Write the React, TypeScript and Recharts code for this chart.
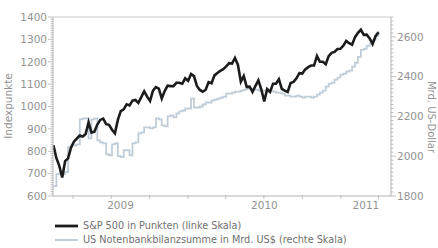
import { LineChart, Line, XAxis, YAxis, ReferenceLine } from "recharts";

const weeks = [
  "2009-02-13", "2009-02-20", "2009-02-27", "2009-03-06", "2009-03-13", "2009-03-20", "2009-03-27",
  "2009-04-03", "2009-04-10", "2009-04-17", "2009-04-24", "2009-05-01", "2009-05-08", "2009-05-15",
  "2009-05-22", "2009-05-29", "2009-06-05", "2009-06-12", "2009-06-19", "2009-06-26", "2009-07-03",
  "2009-07-10", "2009-07-17", "2009-07-24", "2009-07-31", "2009-08-07", "2009-08-14", "2009-08-21",
  "2009-08-28", "2009-09-04", "2009-09-11", "2009-09-18", "2009-09-25", "2009-10-02", "2009-10-09",
  "2009-10-16", "2009-10-23", "2009-10-30", "2009-11-06", "2009-11-13", "2009-11-20", "2009-11-27",
  "2009-12-04", "2009-12-11", "2009-12-18", "2009-12-25",
  "2010-01-01", "2010-01-08", "2010-01-15", "2010-01-22", "2010-01-29", "2010-02-05", "2010-02-12",
  "2010-02-19", "2010-02-26", "2010-03-05", "2010-03-12", "2010-03-19", "2010-03-26", "2010-04-02",
  "2010-04-09", "2010-04-16", "2010-04-23", "2010-04-30", "2010-05-07", "2010-05-14", "2010-05-21",
  "2010-05-28", "2010-06-04", "2010-06-11", "2010-06-18", "2010-06-25", "2010-07-02", "2010-07-09",
  "2010-07-16", "2010-07-23", "2010-07-30", "2010-08-06", "2010-08-13", "2010-08-20", "2010-08-27",
  "2010-09-03", "2010-09-10", "2010-09-17", "2010-09-24", "2010-10-01", "2010-10-08", "2010-10-15",
  "2010-10-22", "2010-10-29", "2010-11-05", "2010-11-12", "2010-11-19", "2010-11-26", "2010-12-03",
  "2010-12-10", "2010-12-17", "2010-12-24", "2010-12-31",
  "2011-01-07", "2011-01-14", "2011-01-21", "2011-01-28", "2011-02-04", "2011-02-11", "2011-02-18",
  "2011-02-25", "2011-03-04", "2011-03-11", "2011-03-18", "2011-03-25", "2011-04-01",
];

// S&P 500, points (left scale)
const spClose = [
  827, 770, 735, 683, 756, 768, 816, 843, 857, 870, 866, 877, 929, 883, 887, 919, 940, 946, 921, 918,
  896, 880, 940, 979, 987, 1010, 1005, 1026, 1029, 1016, 1042, 1068, 1044, 1025, 1071, 1087, 1080, 1036,
  1069, 1093, 1091, 1091, 1106, 1106, 1102, 1126,
  1115, 1145, 1136, 1092, 1074, 1066, 1075, 1109, 1104, 1139, 1150, 1159, 1167, 1179, 1194, 1192, 1217,
  1187, 1111, 1136, 1088, 1089, 1065, 1092, 1117, 1076, 1023, 1078, 1065, 1102, 1102, 1122, 1079, 1071,
  1065, 1105, 1110, 1126, 1149, 1147, 1166, 1176, 1183, 1183, 1226, 1200, 1200, 1189, 1225, 1240, 1244,
  1257, 1258,
  1272, 1293, 1283, 1276, 1310, 1329, 1343, 1320, 1321, 1304, 1279, 1314, 1332,
];

// Fed balance sheet, bn US$ (right scale)
const fedTotal = [
  1850, 1910, 1915, 1910, 1920, 2045, 2055, 2055, 2060, 2185, 2190, 2190, 2090, 2185, 2190, 2080, 2070,
  2065, 2010, 2005, 2060, 2065, 2000, 1995, 2030, 2030, 2005, 2065, 2070, 2115, 2120, 2145, 2145, 2140,
  2145, 2190, 2185, 2155, 2150, 2200, 2205, 2195, 2215, 2225, 2230, 2240,
  2240, 2290, 2245, 2245, 2250, 2260, 2270, 2270, 2280, 2285, 2290, 2295, 2300, 2315, 2315, 2320, 2325,
  2325, 2330, 2335, 2340, 2340, 2335, 2335, 2330, 2330, 2330, 2325, 2330, 2325, 2320, 2320, 2315, 2305,
  2305, 2300, 2300, 2305, 2300, 2295, 2300, 2300, 2295, 2300, 2310, 2320, 2330, 2350, 2365, 2370, 2385,
  2395, 2410,
  2415, 2425, 2430, 2450, 2470, 2500, 2535, 2540, 2555, 2565, 2585, 2605, 2630,
];

const xStart = "2009-02-12";
const xEnd = "2011-05-01";
const quarterTicks = [
  "2009-04-01", "2009-07-01", "2009-10-01", "2010-01-01", "2010-04-01",
  "2010-07-01", "2010-10-01", "2011-01-01", "2011-04-01",
];
const yearLabels = ["2009", "2010", "2011"];
const leftMajor = [600, 700, 800, 900, 1000, 1100, 1200, 1300, 1400];
const rightMajor = [1800, 2000, 2200, 2400, 2600];

const AXIS = "#b4b4b4";
const TEXT = "#939393";
const FONT = "'DejaVu Sans', sans-serif";

const t = (d: string) => Date.parse(d);
const data = weeks.map((d, i) => ({ t: t(d), sp: spClose[i], fed: fedTotal[i] }));

// year labels sit in the middle of the visible part of each year
const yearBounds = [xStart, "2010-01-01", "2011-01-01", xEnd].map(t);
const labelPos = yearLabels.map((_, i) => (yearBounds[i] + yearBounds[i + 1]) / 2);
const qPos = quarterTicks.map(t);

const leftTicks: number[] = [];
for (let v = 600; v <= 1400; v += 10) leftTicks.push(v);
const rightTicks: number[] = [];
for (let v = 1800; v <= 2700; v += 20) rightTicks.push(v);

function LeftTick({ x, y, payload }: any) {
  const major = leftMajor.includes(payload.value);
  return (
    <g>
      <line x1={x} x2={x - (major ? 5 : 2.5)} y1={y} y2={y} stroke={AXIS} strokeWidth={0.8} />
      {major && (
        <text x={x - 6} y={y} dy="0.36em" textAnchor="end" fill={TEXT} fontSize={10.5} fontFamily={FONT}>
          {payload.value}
        </text>
      )}
    </g>
  );
}

function RightTick({ x, y, payload }: any) {
  const major = rightMajor.includes(payload.value);
  return (
    <g>
      <line x1={x} x2={x + (major ? 5 : 2.5)} y1={y} y2={y} stroke={AXIS} strokeWidth={0.8} />
      {major && (
        <text x={x + 6} y={y} dy="0.36em" textAnchor="start" fill={TEXT} fontSize={10.5} fontFamily={FONT}>
          {payload.value}
        </text>
      )}
    </g>
  );
}

function BottomTick({ x, y, payload }: any) {
  const li = labelPos.indexOf(payload.value);
  if (li >= 0) {
    return (
      <text x={x} y={y + 13} textAnchor="middle" fill={TEXT} fontSize={10.5} fontFamily={FONT}>
        {yearLabels[li]}
      </text>
    );
  }
  return <line x1={x} x2={x} y1={y - 1} y2={y + 3} stroke={AXIS} strokeWidth={0.8} />;
}

export default function App() {
  return (
    <div style={{ position: "absolute", left: 0, top: 0, width: 438, height: 248, background: "#fff" }}>
      <LineChart width={438} height={248} data={data} margin={{ top: 17, right: 0, bottom: 32, left: 0 }}>
        <XAxis
          dataKey="t"
          type="number"
          scale="time"
          domain={[t(xStart), t(xEnd)]}
          ticks={[...qPos, ...labelPos].sort((a, b) => a - b)}
          interval={0}
          tick={<BottomTick />}
          tickLine={false}
          tickSize={0}
          tickMargin={0}
          axisLine={{ stroke: AXIS }}
          height={20}
          allowDataOverflow
        />
        <YAxis
          yAxisId="left"
          orientation="left"
          domain={[600, 1400]}
          ticks={leftTicks}
          interval={0}
          tick={<LeftTick />}
          tickLine={false}
          tickSize={0}
          tickMargin={0}
          axisLine={{ stroke: AXIS }}
          width={53}
        />
        <YAxis
          yAxisId="right"
          orientation="right"
          domain={[1800, 2700]}
          ticks={rightTicks}
          interval={0}
          tick={<RightTick />}
          tickLine={false}
          tickSize={0}
          tickMargin={0}
          axisLine={{ stroke: AXIS }}
          width={47}
        />
        <ReferenceLine yAxisId="left" y={1400} stroke="#c8c8c8" strokeWidth={1} />
        <Line
          yAxisId="right"
          dataKey="fed"
          type="stepAfter"
          stroke="#c0cdd8"
          strokeWidth={1.8}
          dot={false}
          isAnimationActive={false}
        />
        <Line
          yAxisId="left"
          dataKey="sp"
          type="linear"
          stroke="#1c1c1c"
          strokeWidth={2.6}
          dot={false}
          isAnimationActive={false}
        />
      </LineChart>
      <svg
        width={438}
        height={248}
        style={{ position: "absolute", left: 0, top: 0, pointerEvents: "none" }}
        fontFamily={FONT}
      >
        <text transform="translate(12,106) rotate(-90)" textAnchor="middle" fill={TEXT} fontSize={10.5}>
          Indexpunkte
        </text>
        <text transform="translate(428,117) rotate(90)" textAnchor="middle" fill={TEXT} fontSize={10}>
          Mrd. US-Dollar
        </text>
        <line x1={55} x2={78} y1={226} y2={226} stroke="#1c1c1c" strokeWidth={2.8} />
        <text x={83} y={226} dy="0.36em" fill="#707070" fontSize={9.7}>
          S&amp;P 500 in Punkten (linke Skala)
        </text>
        <line x1={55} x2={78} y1={240} y2={240} stroke="#c0cdd8" strokeWidth={2} />
        <text x={83} y={240} dy="0.36em" fill="#707070" fontSize={9.7}>
          US Notenbankbilanzsumme in Mrd. US$ (rechte Skala)
        </text>
      </svg>
    </div>
  );
}
